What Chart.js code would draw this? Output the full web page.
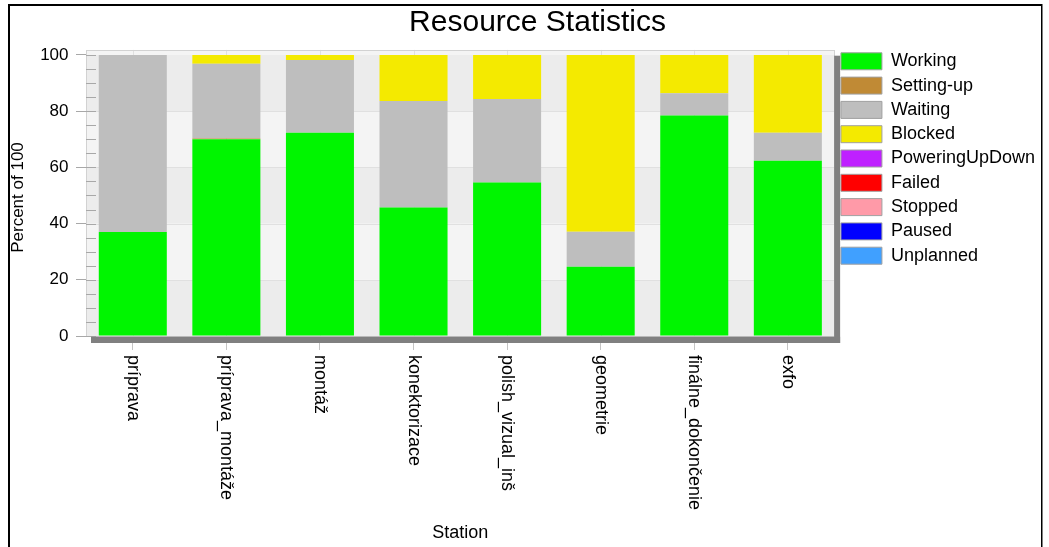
<!DOCTYPE html>
<html><head><meta charset="utf-8">
<script src="https://cdn.jsdelivr.net/npm/chart.js@4.4.1/dist/chart.umd.min.js"></script>
<style>html,body{margin:0;padding:0;background:#fff;overflow:hidden}#wrap{position:relative;width:1049px;height:547px}canvas{display:block}</style>
</head><body><div id="wrap"><canvas id="c" width="1049" height="547"></canvas></div>
<script>
// ---- data ----
const chartTitle = 'Resource Statistics';
const xTitle = 'Station';
const yTitle = 'Percent of 100';
const stations = ['príprava', 'príprava_montáže', 'montáž', 'konektorizace', 'polish_vizual_inš', 'geometrie', 'finálne_dokončenie', 'exfo'];
const seriesNames = ['Working', 'Setting-up', 'Waiting', 'Blocked', 'PoweringUpDown', 'Failed', 'Stopped', 'Paused', 'Unplanned'];
const working   = [37.0, 70.0, 72.3, 45.7, 54.6, 24.6, 78.5, 62.4];
const settingUp = [0, 0.3, 0, 0, 0, 0, 0, 0];
const waiting   = [63.0, 26.6, 25.9, 37.9, 29.7, 12.5, 7.9, 9.9];
const blocked   = [0, 3.1, 1.8, 16.4, 15.7, 62.9, 13.6, 27.7];
const poweringUpDown = [0, 0, 0, 0, 0, 0, 0, 0];
const failed    = [0, 0, 0, 0, 0, 0, 0, 0];
const stopped   = [0, 0, 0, 0, 0, 0, 0, 0];
const paused    = [0, 0, 0, 0, 0, 0, 0, 0];
const unplanned = [0, 0, 0, 0, 0, 0, 0, 0];
const seriesValues = [working, settingUp, waiting, blocked, poweringUpDown, failed, stopped, paused, unplanned];
const seriesColors = ['#00f500', '#c08a35', '#bebebe', '#f4ea00', '#bf20ff', '#ff0000', '#ff9aa8', '#0000ff', '#40a0ff'];
const yMajorTicks = [0, 20, 40, 60, 80, 100];
const yAllTicks = [0, 5, 10, 15, 20, 25, 30, 35, 40, 45, 50, 55, 60, 65, 70, 75, 80, 85, 90, 95, 100];
const yMax = 103.2;
const plotTopValue = 101.8;

Chart.defaults.font.family = "'Liberation Sans', Arial, sans-serif";
Chart.defaults.color = '#000';

const FONT = "'Liberation Sans', Arial, sans-serif";

const decor = {
  id: 'decor',
  beforeDatasetsDraw(chart) {
    const {ctx, chartArea: a, scales: {x, y}} = chart;
    const top = y.getPixelForValue(plotTopValue);
    const bottom = y.getPixelForValue(0);
    const left = a.left, right = a.right - 0.5;
    ctx.save();
    ctx.fillStyle = '#f4f4f4';
    ctx.fillRect(left, top, right - left, y.getPixelForValue(100) - top);
    for (let i = 0; i < yMajorTicks.length - 1; i++) {
      const y0 = y.getPixelForValue(yMajorTicks[i]);
      const y1 = y.getPixelForValue(yMajorTicks[i + 1]);
      ctx.fillStyle = (i % 2 === 0) ? '#ececec' : '#f4f4f4';
      ctx.fillRect(left, y1, right - left, y0 - y1);
    }
    ctx.strokeStyle = '#e0e0e0';
    ctx.lineWidth = 1;
    ctx.beginPath();
    yMajorTicks.slice(1, -1).forEach(v => {
      const py = Math.round(y.getPixelForValue(v)) + 0.5;
      ctx.moveTo(left, py); ctx.lineTo(right, py);
    });
    stations.forEach((s, i) => {
      const px = Math.round(x.getPixelForTick(i)) + 0.5;
      ctx.moveTo(px, top); ctx.lineTo(px, bottom);
    });
    ctx.stroke();
    ctx.strokeStyle = '#d2d2d2';
    ctx.strokeRect(Math.round(left) + 0.5, Math.round(top) + 0.5, Math.round(right - left), Math.round(bottom - top));
    // inner ticks
    ctx.strokeStyle = '#a8a8a8';
    ctx.beginPath();
    yAllTicks.forEach(v => {
      const py = Math.round(y.getPixelForValue(v)) + 0.5;
      ctx.moveTo(left, py); ctx.lineTo(left + 10, py);
    });
    ctx.stroke();
    ctx.restore();
  },
  afterDraw(chart) {
    const {ctx, chartArea: a, scales: {x, y}} = chart;
    const bottom = y.getPixelForValue(0);
    const right = a.right - 0.5;
    ctx.save();
    // shadow
    ctx.fillStyle = '#808080';
    ctx.fillRect(right, y.getPixelForValue(100) + 0.7, 6, bottom - y.getPixelForValue(100) + 6.3);
    ctx.fillRect(a.left + 5, bottom + 0.7, right - a.left + 1, 6.3);
    // x labels (rotated clockwise)
    ctx.fillStyle = '#000';
    ctx.font = '18px ' + FONT;
    ctx.textAlign = 'left';
    ctx.textBaseline = 'middle';
    stations.forEach((s, i) => {
      const px = x.getPixelForTick(i);
      ctx.save();
      ctx.translate(px, bottom + 19);
      ctx.rotate(Math.PI / 2);
      ctx.fillText(s, 0, 0);
      ctx.restore();
    });
    // y title
    ctx.save();
    ctx.font = '17px ' + FONT;
    ctx.textAlign = 'center';
    ctx.translate(18.5, 197.5);
    ctx.rotate(-Math.PI / 2);
    ctx.fillText(yTitle, 0, 0);
    ctx.restore();
    // main title
    ctx.font = '30px ' + FONT;
    ctx.textAlign = 'center';
    ctx.textBaseline = 'alphabetic';
    ctx.fillText(chartTitle, 537.5, 30.5);
    // frame
    ctx.fillStyle = '#000';
    ctx.fillRect(8, 4, 1034, 2);
    ctx.fillRect(8, 4, 2, 543);
    ctx.fillRect(1041, 4, 1.5, 543);
    ctx.restore();
  }
};

new Chart(document.getElementById('c'), {
  type: 'bar',
  data: {
    labels: stations,
    datasets: seriesNames.map((n, i) => ({
      label: n,
      data: seriesValues[i],
      backgroundColor: seriesColors[i],
      borderWidth: 0,
      barPercentage: 0.727,
      categoryPercentage: 1.0
    }))
  },
  options: {
    responsive: false,
    animation: false,
    devicePixelRatio: 1,
    layout: {padding: {top: 46, left: 0, right: 4, bottom: 0}},
    plugins: {
      title: {display: false},
      tooltip: {enabled: false},
      legend: {
        position: 'right',
        align: 'start',
        labels: {
          boxWidth: 41,
          boxHeight: 17,
          padding: 6.3,
          font: {size: 18},
          color: '#000',
          generateLabels(chart) {
            const items = Chart.defaults.plugins.legend.labels.generateLabels(chart);
            items.forEach(it => { it.strokeStyle = '#a0a0a0'; it.lineWidth = 1; });
            return items;
          }
        }
      }
    },
    scales: {
      x: {
        stacked: true,
        grid: {display: true, drawOnChartArea: false, offset: false, tickLength: 14, tickColor: '#c4c4c4'},
        border: {display: false},
        ticks: {display: false},
        title: {display: true, text: xTitle, font: {size: 18}, color: '#000', padding: {top: 0, bottom: 3}},
        afterFit(s) { s.height = 211; }
      },
      y: {
        stacked: true,
        min: 0,
        max: yMax,
        ticks: {
          autoSkip: false,
          padding: 7.5,
          font: {size: 17},
          color: '#000',
          callback: v => (yMajorTicks.includes(v) ? String(v) : '')
        },
        afterBuildTicks(s) { s.ticks = yAllTicks.map(v => ({value: v})); },
        grid: {
          display: true,
          drawOnChartArea: false,
          tickLength: 10,
          tickColor: c => (c.tick && yMajorTicks.includes(c.tick.value) ? '#a8a8a8' : 'rgba(0,0,0,0)')
        },
        border: {display: false},
        afterFit(s) { s.width = 86; }
      }
    }
  },
  plugins: [decor]
});
</script>
</body></html>
